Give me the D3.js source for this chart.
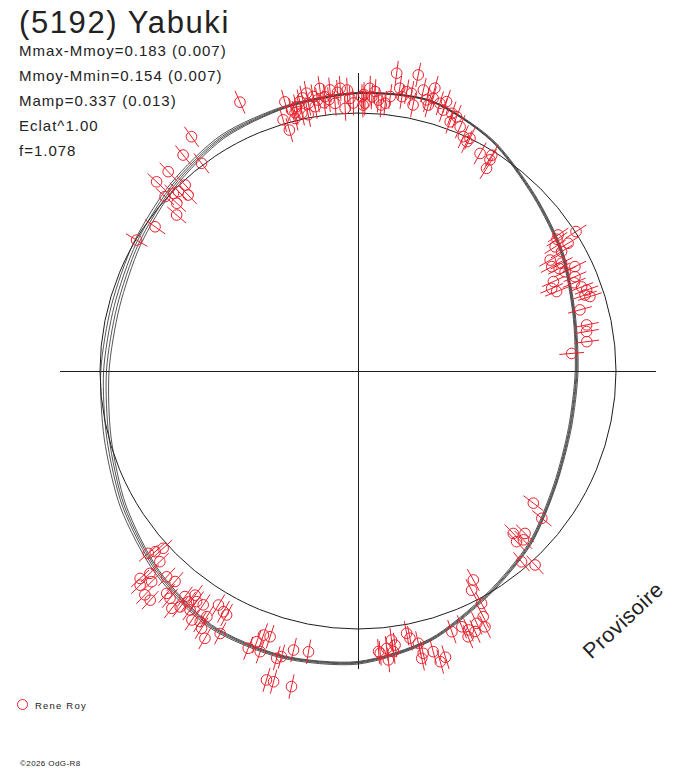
<!DOCTYPE html>
<html>
<head>
<meta charset="utf-8">
<script src="https://cdn.jsdelivr.net/npm/d3@7"></script>
<style>
body { margin: 0; background: #fff; }
svg { display: block; font-family: "Liberation Sans", Arial, sans-serif; }
</style>
</head>
<body>
<div id="chart"></div>
<script>
// texts
const title = "(5192) Yabuki";
const infoLines = ["Mmax-Mmoy=0.183 (0.007)", "Mmoy-Mmin=0.154 (0.007)", "Mamp=0.337 (0.013)", "Eclat^1.00", "f=1.078"];
const observer = "Rene Roy";
const stamp = "\u00a92026 OdG-R8";
const watermark = "Provisoire";

// model curves: rotational phase (deg) -> relative flux radius
const curveAngles = [0, 15, 30, 45, 60, 75, 90, 105, 120, 135, 150, 165, 180, 195, 210, 225, 240, 255, 270, 285, 300, 315, 330, 345];
const curve1 = [1.080, 1.086, 1.038, 0.968, 0.918, 0.871, 0.853, 0.856, 0.887, 0.949, 1.008, 1.084, 1.136, 1.151, 1.149, 1.110, 1.062, 1.018, 0.997, 0.989, 1.002, 1.027, 1.057, 1.066];
const curve2 = [1.078, 1.085, 1.035, 0.965, 0.915, 0.868, 0.849, 0.852, 0.884, 0.946, 1.004, 1.081, 1.132, 1.147, 1.144, 1.103, 1.053, 1.008, 0.986, 0.978, 0.992, 1.019, 1.051, 1.063];
const curve3 = [1.076, 1.083, 1.033, 0.962, 0.912, 0.865, 0.846, 0.849, 0.881, 0.943, 1.001, 1.078, 1.129, 1.144, 1.140, 1.097, 1.046, 0.999, 0.975, 0.967, 0.983, 1.012, 1.046, 1.060];
const curve4 = [1.075, 1.082, 1.031, 0.959, 0.909, 0.862, 0.842, 0.845, 0.877, 0.939, 0.997, 1.075, 1.126, 1.141, 1.136, 1.092, 1.039, 0.991, 0.965, 0.957, 0.974, 1.005, 1.041, 1.058];
const refRadius = 1.0;
const axisExtent = 1.155;
const errBar = 0.048;

// observations [phase deg, radius]
const obsPoints = [
  [336.3,1.138],[344.8,1.081],[343.4,1.016],[344.1,0.971],[345.7,1.044],[346.9,1.052],[347.7,1.022],[349.5,1.095],
  [349.5,1.055],[350.7,1.078],[352.3,1.105],[350.8,1.038],[353.1,1.071],[354.3,1.095],[356.4,1.098],[355.1,1.041],
  [357.2,1.019],[358.3,1.057],[359.0,1.039],[0.8,1.063],[1.5,1.039],[2.4,1.097],[2.9,1.064],[346.0,1.009],
  [347.8,1.068],[7.4,1.164],[11.5,1.171],[8.4,1.108],[1.2,1.072],[1.1,1.031],[4.3,1.053],[5.8,1.043],
  [6.7,1.071],[9.1,1.077],[10.9,1.096],[13.1,1.118],[15.2,1.136],[15.4,1.096],[11.7,1.053],[14.2,1.084],
  [17.0,1.085],[18.2,1.099],[18.1,1.064],[20.0,1.063],[21.2,1.057],[20.3,1.030],[22.7,1.026],[24.2,0.996],
  [25.7,1.001],[25.4,0.984],[29.3,0.967],[31.8,0.984],[32.4,0.930],[32.0,0.965],[14.8,1.066],[9.9,1.099],
  [348.5,1.080],[351.5,1.062],[352.8,1.048],[355.8,1.083],[357.8,1.090],[346.3,1.030],[349.0,1.012],[353.9,1.058],
  [3.5,1.085],[5.0,1.035],
  [57.4,1.003],[55.8,0.938],[58.7,0.953],[57.8,0.903],[59.6,0.915],[60.0,0.860],[61.7,0.853],[62.1,0.893],
  [64.3,0.933],[66.5,0.917],[64.4,0.890],[65.4,0.833],[66.9,0.816],[68.2,0.829],[69.4,0.926],[70.5,0.940],
  [72.2,0.944],[71.5,0.928],[74.6,0.892],[78.6,0.904],[80.2,0.899],[82.7,0.894],[85.3,0.831],[56.5,0.925],
  [63.0,0.875],[67.8,0.905],
  [127.0,0.851],[128.7,0.913],[136.3,0.871],[134.2,0.903],[137.1,0.903],[135.6,0.916],[139.4,0.974],[137.6,1.018],
  [151.1,0.925],[152.6,0.957],[152.0,1.020],[153.0,1.069],[154.8,1.081],[153.6,1.107],[156.9,1.091],[155.8,1.107],
  [157.9,1.070],[160.2,1.074],[157.5,1.115],[169.5,1.034],[172.9,1.051],[174.1,1.081],[172.3,1.072],[174.0,1.126],
  [169.0,1.055],[167.5,1.081],[167.0,1.123],[167.5,1.141],[165.0,1.126],[164.2,1.171],[163.0,1.160],[175.8,1.090],
  [175.5,1.097],[172.8,1.096],
  [228.3,1.053],[227.7,1.021],[229.0,1.077],[226.1,1.066],[226.4,1.166],[225.8,1.125],[224.4,1.143],[223.6,1.198],
  [222.2,1.199],[222.9,1.089],[221.0,1.081],[220.7,1.137],[219.6,1.143],[218.1,1.169],[217.5,1.102],[216.3,1.110],
  [216.0,1.074],[215.0,1.091],[215.1,1.132],[213.7,1.160],[213.5,1.087],[212.2,1.148],[211.3,1.167],[209.8,1.194],
  [210.8,1.056],[209.2,1.069],[208.3,1.074],[207.7,1.149],[201.6,1.156],[200.5,1.120],[199.7,1.087],[198.3,1.085],
  [199.2,1.152],[196.5,1.249],[195.2,1.248],[195.8,1.157],[195.0,1.146],[193.0,1.110],[190.0,1.105],[191.9,1.250],
  [217.0,1.145],[225.5,1.184],[211.6,1.118],
  [324.6,1.114],[321.0,1.077],[323.0,1.008],[316.4,1.067],[313.2,1.071],[317.1,0.984],[315.0,0.984],[316.0,0.948],
  [312.1,1.008],[313.9,0.993],[312.8,0.957],[310.7,0.927],[305.4,0.965],[300.6,0.997]
];

const width = 688, height = 768;
const cx = 358, cy = 371;
const ink = "#1e1e1e", red = "#e8212c";

const svg = d3.select("#chart").append("svg")
  .attr("width", width).attr("height", height)
  .attr("viewBox", [0, 0, width, height]);
svg.append("rect").attr("width", width).attr("height", height).attr("fill", "#fff");

const r = d3.scaleLinear([0, 1], [0, 258]);
const ang = d3.scaleLinear([0, 360], [0, 2 * Math.PI]);

const plot = svg.append("g").attr("transform", `translate(${cx},${cy})`);

// axes
plot.append("g")
  .attr("stroke", ink).attr("shape-rendering", "crispEdges")
  .call(g => g.append("line").attr("x1", -r(axisExtent)).attr("x2", r(axisExtent)).attr("y1", 0.5).attr("y2", 0.5))
  .call(g => g.append("line").attr("y1", -r(axisExtent)).attr("y2", r(axisExtent)).attr("x1", 0.5).attr("x2", 0.5));

// reference circle
plot.append("circle")
  .attr("r", r(refRadius))
  .attr("fill", "none").attr("stroke", ink).attr("stroke-width", 1);

// model curves
const line = d3.lineRadial()
  .angle(d => ang(d[0]))
  .radius(d => r(d[1]))
  .curve(d3.curveCardinalClosed.tension(0.2));

plot.append("g")
  .attr("fill", "none").attr("stroke", "#2a2a2a").attr("stroke-width", 0.8)
  .selectAll("path")
  .data([curve1, curve2, curve3, curve4])
  .join("path")
    .attr("d", c => line(curveAngles.map((a, i) => [a, c[i]])));

// observations
const obs = plot.append("g")
  .attr("fill", "none").attr("stroke", red).attr("stroke-width", 1);

obs.selectAll("line")
  .data(obsPoints)
  .join("line")
    .attr("x1", d => d3.pointRadial(ang(d[0]), r(d[1] - errBar))[0])
    .attr("y1", d => d3.pointRadial(ang(d[0]), r(d[1] - errBar))[1])
    .attr("x2", d => d3.pointRadial(ang(d[0]), r(d[1] + errBar))[0])
    .attr("y2", d => d3.pointRadial(ang(d[0]), r(d[1] + errBar))[1]);

obs.selectAll("circle")
  .data(obsPoints)
  .join("circle")
    .attr("cx", d => d3.pointRadial(ang(d[0]), r(d[1]))[0])
    .attr("cy", d => d3.pointRadial(ang(d[0]), r(d[1]))[1])
    .attr("r", 5.3);

// title + info
svg.append("text")
  .attr("x", 19).attr("y", 33)
  .attr("font-size", 31).attr("letter-spacing", 1.6)
  .attr("fill", "#222")
  .text(title);

svg.append("g")
  .attr("font-size", 15).attr("letter-spacing", 1).attr("fill", "#222")
  .selectAll("text")
  .data(infoLines)
  .join("text")
    .attr("x", 19)
    .attr("y", (d, i) => 56 + i * 25)
    .text(d => d);

// watermark
svg.append("text")
  .attr("transform", "translate(623,620) rotate(-43)")
  .attr("text-anchor", "middle").attr("dy", "0.35em")
  .attr("font-size", 21.5).attr("letter-spacing", 0.5)
  .attr("fill", "#222")
  .text(watermark);

// legend
svg.append("circle")
  .attr("cx", 22.5).attr("cy", 704.5).attr("r", 5)
  .attr("fill", "none").attr("stroke", red);
svg.append("text")
  .attr("x", 35).attr("y", 709)
  .attr("font-size", 9.5).attr("letter-spacing", 1.2).attr("fill", "#222")
  .text(observer);

svg.append("text")
  .attr("x", 20).attr("y", 766)
  .attr("font-size", 8).attr("letter-spacing", 0.4).attr("fill", "#222")
  .text(stamp);
</script>
</body>
</html>
